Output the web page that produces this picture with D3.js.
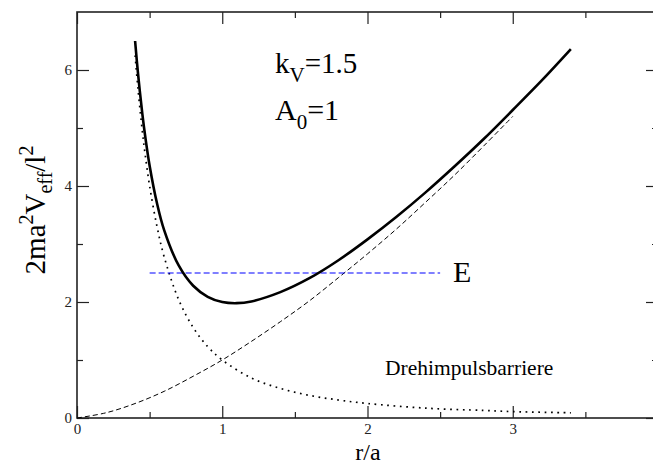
<!DOCTYPE html>
<html>
<head>
<meta charset="utf-8">
<script src="https://cdn.jsdelivr.net/npm/d3@7"></script>
<style>
  body { margin: 0; background: white; }
</style>
</head>
<body>
<div id="canvas"></div>
<script>
var width = 653;
var height = 464;
var serif = "'Liberation Serif', 'Times New Roman', Times, serif";

// V_eff (solid)
const rEff = [0.40, 0.42, 0.45, 0.47, 0.50, 0.55, 0.60, 0.70, 0.80, 0.90, 1.00, 1.10, 1.20, 1.40, 1.60, 1.80, 2.00, 2.20, 2.40, 2.60, 2.80, 3.00, 3.20, 3.40];
const vEff = [6.50, 5.94, 5.24, 4.85, 4.35, 3.71, 3.24, 2.63, 2.28, 2.09, 2.00, 1.98, 2.01, 2.17, 2.41, 2.72, 3.08, 3.47, 3.89, 4.34, 4.81, 5.31, 5.82, 6.36];

// Drehimpulsbarriere (dotted)
const rBar = [0.40, 0.42, 0.45, 0.47, 0.50, 0.55, 0.60, 0.70, 0.80, 0.90, 1.00, 1.20, 1.40, 1.60, 1.80, 2.00, 2.40, 2.80, 3.00, 3.40];
const vBar = [6.25, 5.67, 4.94, 4.53, 4.00, 3.31, 2.78, 2.04, 1.56, 1.23, 1.00, 0.69, 0.51, 0.39, 0.31, 0.25, 0.17, 0.13, 0.11, 0.09];

// potential (dashed)
const rPot = [0.0, 0.2, 0.4, 0.6, 0.8, 1.0, 1.2, 1.4, 1.6, 1.8, 2.0, 2.2, 2.4, 2.6, 2.8, 3.0];
const vPot = [0.00, 0.09, 0.25, 0.46, 0.72, 1.00, 1.32, 1.66, 2.02, 2.42, 2.83, 3.26, 3.72, 4.19, 4.69, 5.20];

// energy level E
const rE = [0.5, 2.5];
const vE = [2.5, 2.5];

const xMajor = [0, 1, 2, 3];
const xMinor = [0.5, 1.5, 2.5, 3.5];
const yMajor = [0, 2, 4, 6];
const yMinor = [1, 3, 5];

const pLeft = 77, pRight = 658, pTop = 12, pBottom = 418;

var svg = d3.select("#canvas").append("svg")
    .attr("width", width)
    .attr("height", height)
    .style("background-color", "white");

const x = d3.scaleLinear().domain([0, 4]).range([pLeft, pRight]);
const y = d3.scaleLinear().domain([0, 7]).range([pBottom, pTop]);

function toPts(xs, ys) { return xs.map((v, i) => [v, ys[i]]); }

const line = d3.line()
    .x(d => x(d[0]))
    .y(d => y(d[1]))
    .curve(d3.curveCatmullRom);

// axes: inward ticks on all four sides
function addAxis(axis, tx, ty, labels) {
    const g = svg.append("g").attr("transform", `translate(${tx},${ty})`).call(axis);
    g.select(".domain").remove();
    g.attr("font-family", serif).attr("font-size", 15);
    g.selectAll("line").attr("stroke", "#222").attr("stroke-width", 1.2);
    if (!labels) g.selectAll("text").remove();
    else g.selectAll("text").attr("fill", "#222");
    return g;
}

addAxis(d3.axisBottom(x).tickValues(xMajor).tickFormat(d3.format("d")).tickSize(-12).tickPadding(5), 0, pBottom, true);
addAxis(d3.axisBottom(x).tickValues(xMinor).tickSize(-6), 0, pBottom, false);
addAxis(d3.axisTop(x).tickValues(xMajor).tickSize(-12), 0, pTop, false);
addAxis(d3.axisTop(x).tickValues(xMinor).tickSize(-6), 0, pTop, false);
addAxis(d3.axisLeft(y).tickValues(yMajor).tickFormat(d3.format("d")).tickSize(-12).tickPadding(5), pLeft, 0, true);
addAxis(d3.axisLeft(y).tickValues(yMinor).tickSize(-6), pLeft, 0, false);
addAxis(d3.axisRight(y).tickValues(yMajor).tickSize(-12), pRight, 0, false);
addAxis(d3.axisRight(y).tickValues(yMinor).tickSize(-6), pRight, 0, false);

svg.append("rect")
    .attr("x", pLeft).attr("y", pTop)
    .attr("width", pRight - pLeft).attr("height", pBottom - pTop)
    .attr("fill", "none").attr("stroke", "#222").attr("stroke-width", 1.6);

// curves
svg.append("path").datum(toPts(rPot, vPot))
    .attr("d", line).attr("fill", "none")
    .attr("stroke", "black").attr("stroke-width", 1).attr("stroke-dasharray", "5,3");

svg.append("path").datum(toPts(rBar, vBar))
    .attr("d", line).attr("fill", "none")
    .attr("stroke", "black").attr("stroke-width", 1.7).attr("stroke-dasharray", "1.7,4.6");

svg.append("path").datum(toPts(rE, vE))
    .attr("d", line).attr("fill", "none")
    .attr("stroke", "#0000ff").attr("stroke-width", 1.2).attr("stroke-dasharray", "6,3");

svg.append("path").datum(toPts(rEff, vEff))
    .attr("d", line).attr("fill", "none")
    .attr("stroke", "black").attr("stroke-width", 2.6);

// texts
function txt(xp, yp, size) {
    return svg.append("text").attr("x", xp).attr("y", yp)
        .attr("font-family", serif).attr("font-size", size).attr("fill", "black");
}

const kt = txt(275, 73, 29);
kt.append("tspan").text("k");
kt.append("tspan").attr("dy", 9).attr("font-size", 21).text("V");
kt.append("tspan").attr("dy", -9).text("=1.5");

const at = txt(275, 120, 30);
at.append("tspan").text("A");
at.append("tspan").attr("dy", 9).attr("font-size", 21).text("0");
at.append("tspan").attr("dy", -9).text("=1");

txt(453, 282, 30).text("E");

txt(385, 375, 21.5).text("Drehimpulsbarriere");

txt(368, 460, 24).attr("text-anchor", "middle").text("r/a");

const yl = txt(0, 0, 29)
    .attr("transform", "translate(45,210) rotate(-90)")
    .attr("text-anchor", "middle");
yl.append("tspan").text("2ma");
yl.append("tspan").attr("dy", -12).attr("font-size", 20).text("2");
yl.append("tspan").attr("dy", 12).text("V");
yl.append("tspan").attr("dy", 7).attr("font-size", 20).text("eff");
yl.append("tspan").attr("dy", -7).text("/l");
yl.append("tspan").attr("dy", -12).attr("font-size", 20).text("2");
</script>
</body>
</html>
